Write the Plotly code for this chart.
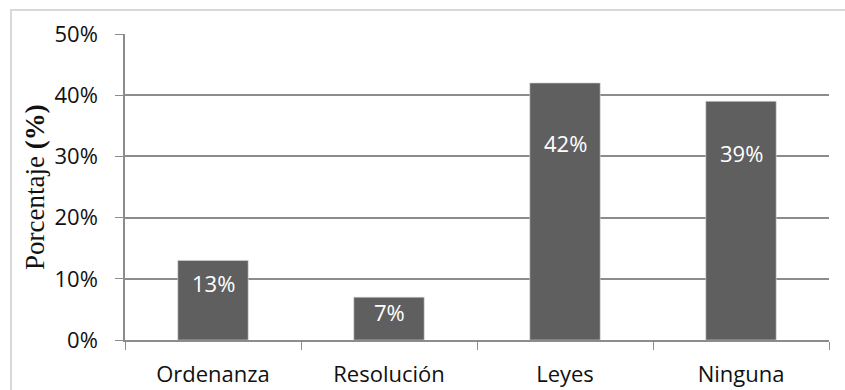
import plotly.graph_objects as go

# Data
categories = ["Ordenanza", "Resolución", "Leyes", "Ninguna"]
percentages = [13, 7, 42, 39]
y_tick_values = [0, 10, 20, 30, 40, 50]
y_tick_labels = ["0%", "10%", "20%", "30%", "40%", "50%"]

# Layout constants (pixels)
W, H = 845, 390
M_L, M_R, M_T, M_B = 125, 16, 34, 50
PLOT_W = W - M_L - M_R
PLOT_H = H - M_T - M_B

# Distance from each bar's top to the centre of its value label
label_drop_px = [23, 15, 60, 52]

BAR_COLOR = "#5f5f5f"
GRID_COLOR = "#8c8c8c"
TEXT_COLOR = "#111111"
FONT = "Open Sans"

fig = go.Figure(
    go.Bar(
        x=categories,
        y=percentages,
        marker=dict(color=BAR_COLOR, line=dict(color="#d8d8d8", width=0.6)),
        hoverinfo="skip",
    )
)

for cat, val, drop in zip(categories, percentages, label_drop_px):
    fig.add_annotation(
        x=cat, y=val, xref="x", yref="y",
        text=f"{val}%", showarrow=False,
        yanchor="middle", yshift=-drop,
        font=dict(family=FONT, size=22, color="white"),
    )

# Axis title: serif, with the unit in bold
fig.add_annotation(
    x=(35 - M_L) / PLOT_W, y=0.5, xref="paper", yref="paper",
    text="Porcentaje <b>(%)</b>", showarrow=False, textangle=-90,
    xanchor="center", yanchor="middle",
    font=dict(family="Liberation Serif", size=27, color=TEXT_COLOR),
)

# Chart area border (left and top edges visible)
def px_x(p):
    return (p - M_L) / PLOT_W

def px_y(p):
    return (H - M_B - p) / PLOT_H

fig.add_shape(
    type="rect", xref="paper", yref="paper",
    x0=px_x(11), x1=px_x(W + 10), y0=px_y(H + 10), y1=px_y(10),
    line=dict(color="#d9d9d9", width=2), fillcolor="rgba(0,0,0,0)",
    layer="below",
)

fig.update_layout(
    width=W, height=H,
    margin=dict(l=M_L, r=M_R, t=M_T, b=M_B),
    paper_bgcolor="white", plot_bgcolor="white",
    bargap=0.6, showlegend=False,
    font=dict(family=FONT, color=TEXT_COLOR),
)

fig.update_xaxes(
    type="category",
    tickson="boundaries",
    ticks="outside", ticklen=8, tickwidth=1.3, tickcolor=GRID_COLOR,
    ticklabelstandoff=14,
    automargin=False,
    showline=True, linecolor=GRID_COLOR, linewidth=1.5,
    showgrid=False,
    tickfont=dict(family=FONT, size=22, color=TEXT_COLOR),
)

fig.update_yaxes(
    range=[0, 50],
    tickmode="array", tickvals=y_tick_values, ticktext=y_tick_labels,
    ticks="outside", ticklen=8, tickwidth=1.3, tickcolor=GRID_COLOR,
    ticklabelstandoff=13,
    automargin=False,
    showline=True, linecolor=GRID_COLOR, linewidth=1.5,
    showgrid=True, gridcolor=GRID_COLOR, gridwidth=1.5,
    zeroline=False,
    tickfont=dict(family=FONT, size=22, color=TEXT_COLOR),
)

fig.write_html("out.html")
